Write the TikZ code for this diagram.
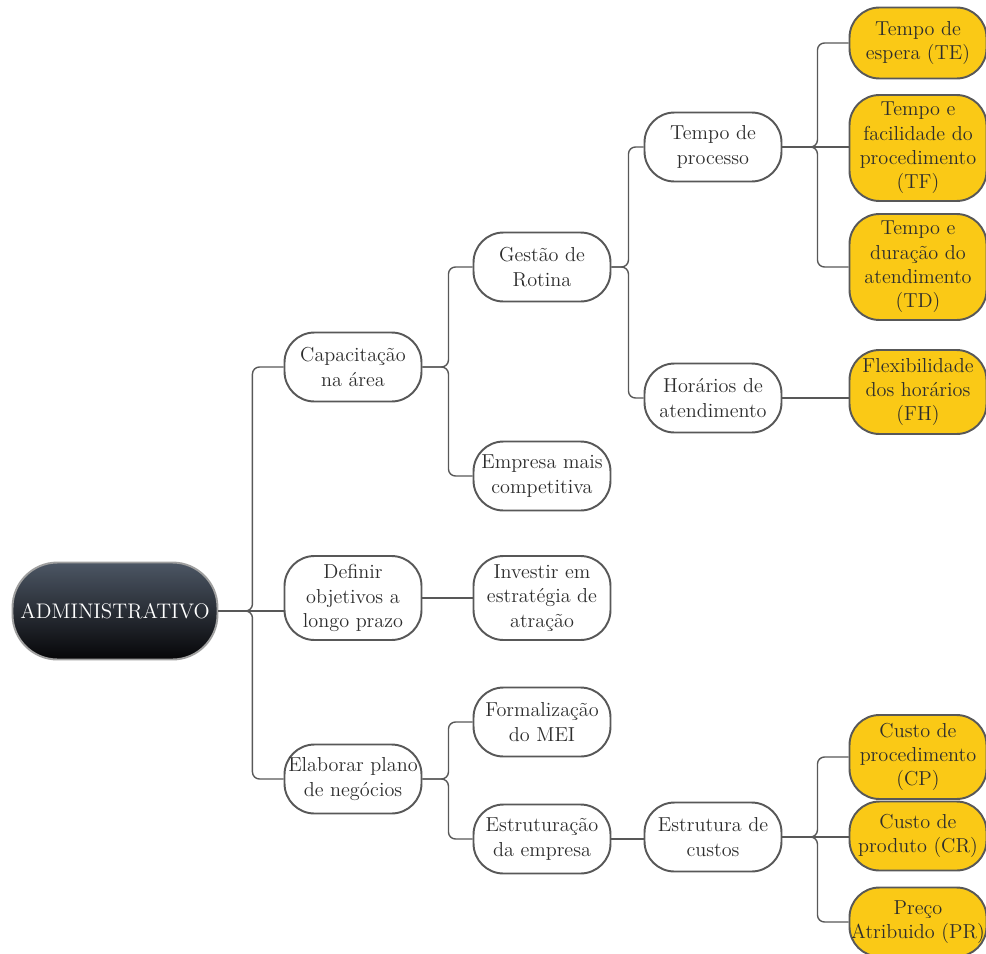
\documentclass[tikz,border=0pt]{standalone}
\usetikzlibrary{positioning}
\definecolor{linecol}{RGB}{88,88,88}
\definecolor{textcol}{RGB}{45,45,45}
\definecolor{leafcol}{RGB}{250,201,22}
\definecolor{roottop}{RGB}{76,86,100}
\definecolor{rootbot}{RGB}{6,6,8}

\begin{document}
\begin{tikzpicture}[
    x=0.02cm, y=-0.02cm,
    topic/.style={rectangle, rounded corners=0.6cm, minimum width=2.74cm, minimum height=1.38cm, align=center, draw=linecol, line width=1.1pt, fill=white, text=textcol, inner sep=1pt, font=\fontsize{11.5}{13.8}\selectfont},
    leaf/.style={topic, fill=leafcol},
    tall/.style={minimum height=1.68cm},
    taller/.style={minimum height=2.12cm},
    link/.style={draw=linecol, line width=0.8pt, rounded corners=4pt},
]
\useasboundingbox (0,0) rectangle (986,953);

% root
\node[rectangle, rounded corners=0.9cm, minimum width=4.1cm, minimum height=1.94cm, top color=roottop, bottom color=rootbot, draw=gray!75, line width=1.1pt, text=white, font=\fontsize{12}{15}\selectfont] (admin) at (115,611) {ADMINISTRATIVO};

% first level
\node[topic] (cap) at (353,367) {Capacitação\\na área};
\node[topic, tall] (def) at (353,598) {Definir\\objetivos a\\longo prazo};
\node[topic] (elab) at (353,779) {Elaborar plano\\de negócios};

% second level
\node[topic] (gest) at (542,267) {Gestão de\\Rotina};
\node[topic] (emp) at (542,476) {Empresa mais\\competitiva};
\node[topic, tall] (inv) at (542,598) {Investir em\\estratégia de\\atração};
\node[topic] (form) at (542,722) {Formalização\\do MEI};
\node[topic] (estr) at (542,839) {Estruturação\\da empresa};

% third level
\node[topic] (proc) at (713,147) {Tempo de\\processo};
\node[topic] (hor) at (713,398) {Horários de\\atendimento};
\node[topic] (cust) at (713,837) {Estrutura de\\custos};

% indicators
\node[leaf, minimum height=1.42cm] (te) at (918,43) {Tempo de\\espera (TE)};
\node[leaf, taller] (tf) at (918,148) {Tempo e\\facilidade do\\procedimento\\(TF)};
\node[leaf, taller] (td) at (918,267) {Tempo e\\duração do\\atendimento\\(TD)};
\node[leaf, tall] (fh) at (918,392) {Flexibilidade\\dos horários\\(FH)};
\node[leaf, tall] (cp) at (918,757) {Custo de\\procedimento\\(CP)};
\node[leaf] (cr) at (918,836) {Custo de\\produto (CR)};
\node[leaf] (pr) at (918,922) {Preço\\Atribuido (PR)};

% connectors
\draw[link] (admin.east) -- ++(34,0) |- (cap.west);
\draw[link] (admin.east) -- (admin.east -| def.west);
\draw[link] (admin.east) -- ++(34,0) |- (elab.west);

\draw[link] (cap.east) -- ++(26,0) |- (gest.west);
\draw[link] (cap.east) -- ++(26,0) |- (emp.west);
\draw[link] (def.east) -- (inv.west);
\draw[link] (elab.east) -- ++(26,0) |- (form.west);
\draw[link] (elab.east) -- ++(26,0) |- (estr.west);

\draw[link] (gest.east) -- ++(17,0) |- (proc.west);
\draw[link] (gest.east) -- ++(17,0) |- (hor.west);
\draw[link] (estr.east) -- (estr.east -| cust.west);

\draw[link] (proc.east) -- ++(35,0) |- (te.west);
\draw[link] (proc.east) -- (proc.east -| tf.west);
\draw[link] (proc.east) -- ++(35,0) |- (td.west);
\draw[link] (hor.east) -- (hor.east -| fh.west);

\draw[link] (cust.east) -- ++(35,0) |- (cp.west);
\draw[link] (cust.east) -- (cust.east -| cr.west);
\draw[link] (cust.east) -- ++(35,0) |- (pr.west);
\end{tikzpicture}
\end{document}
